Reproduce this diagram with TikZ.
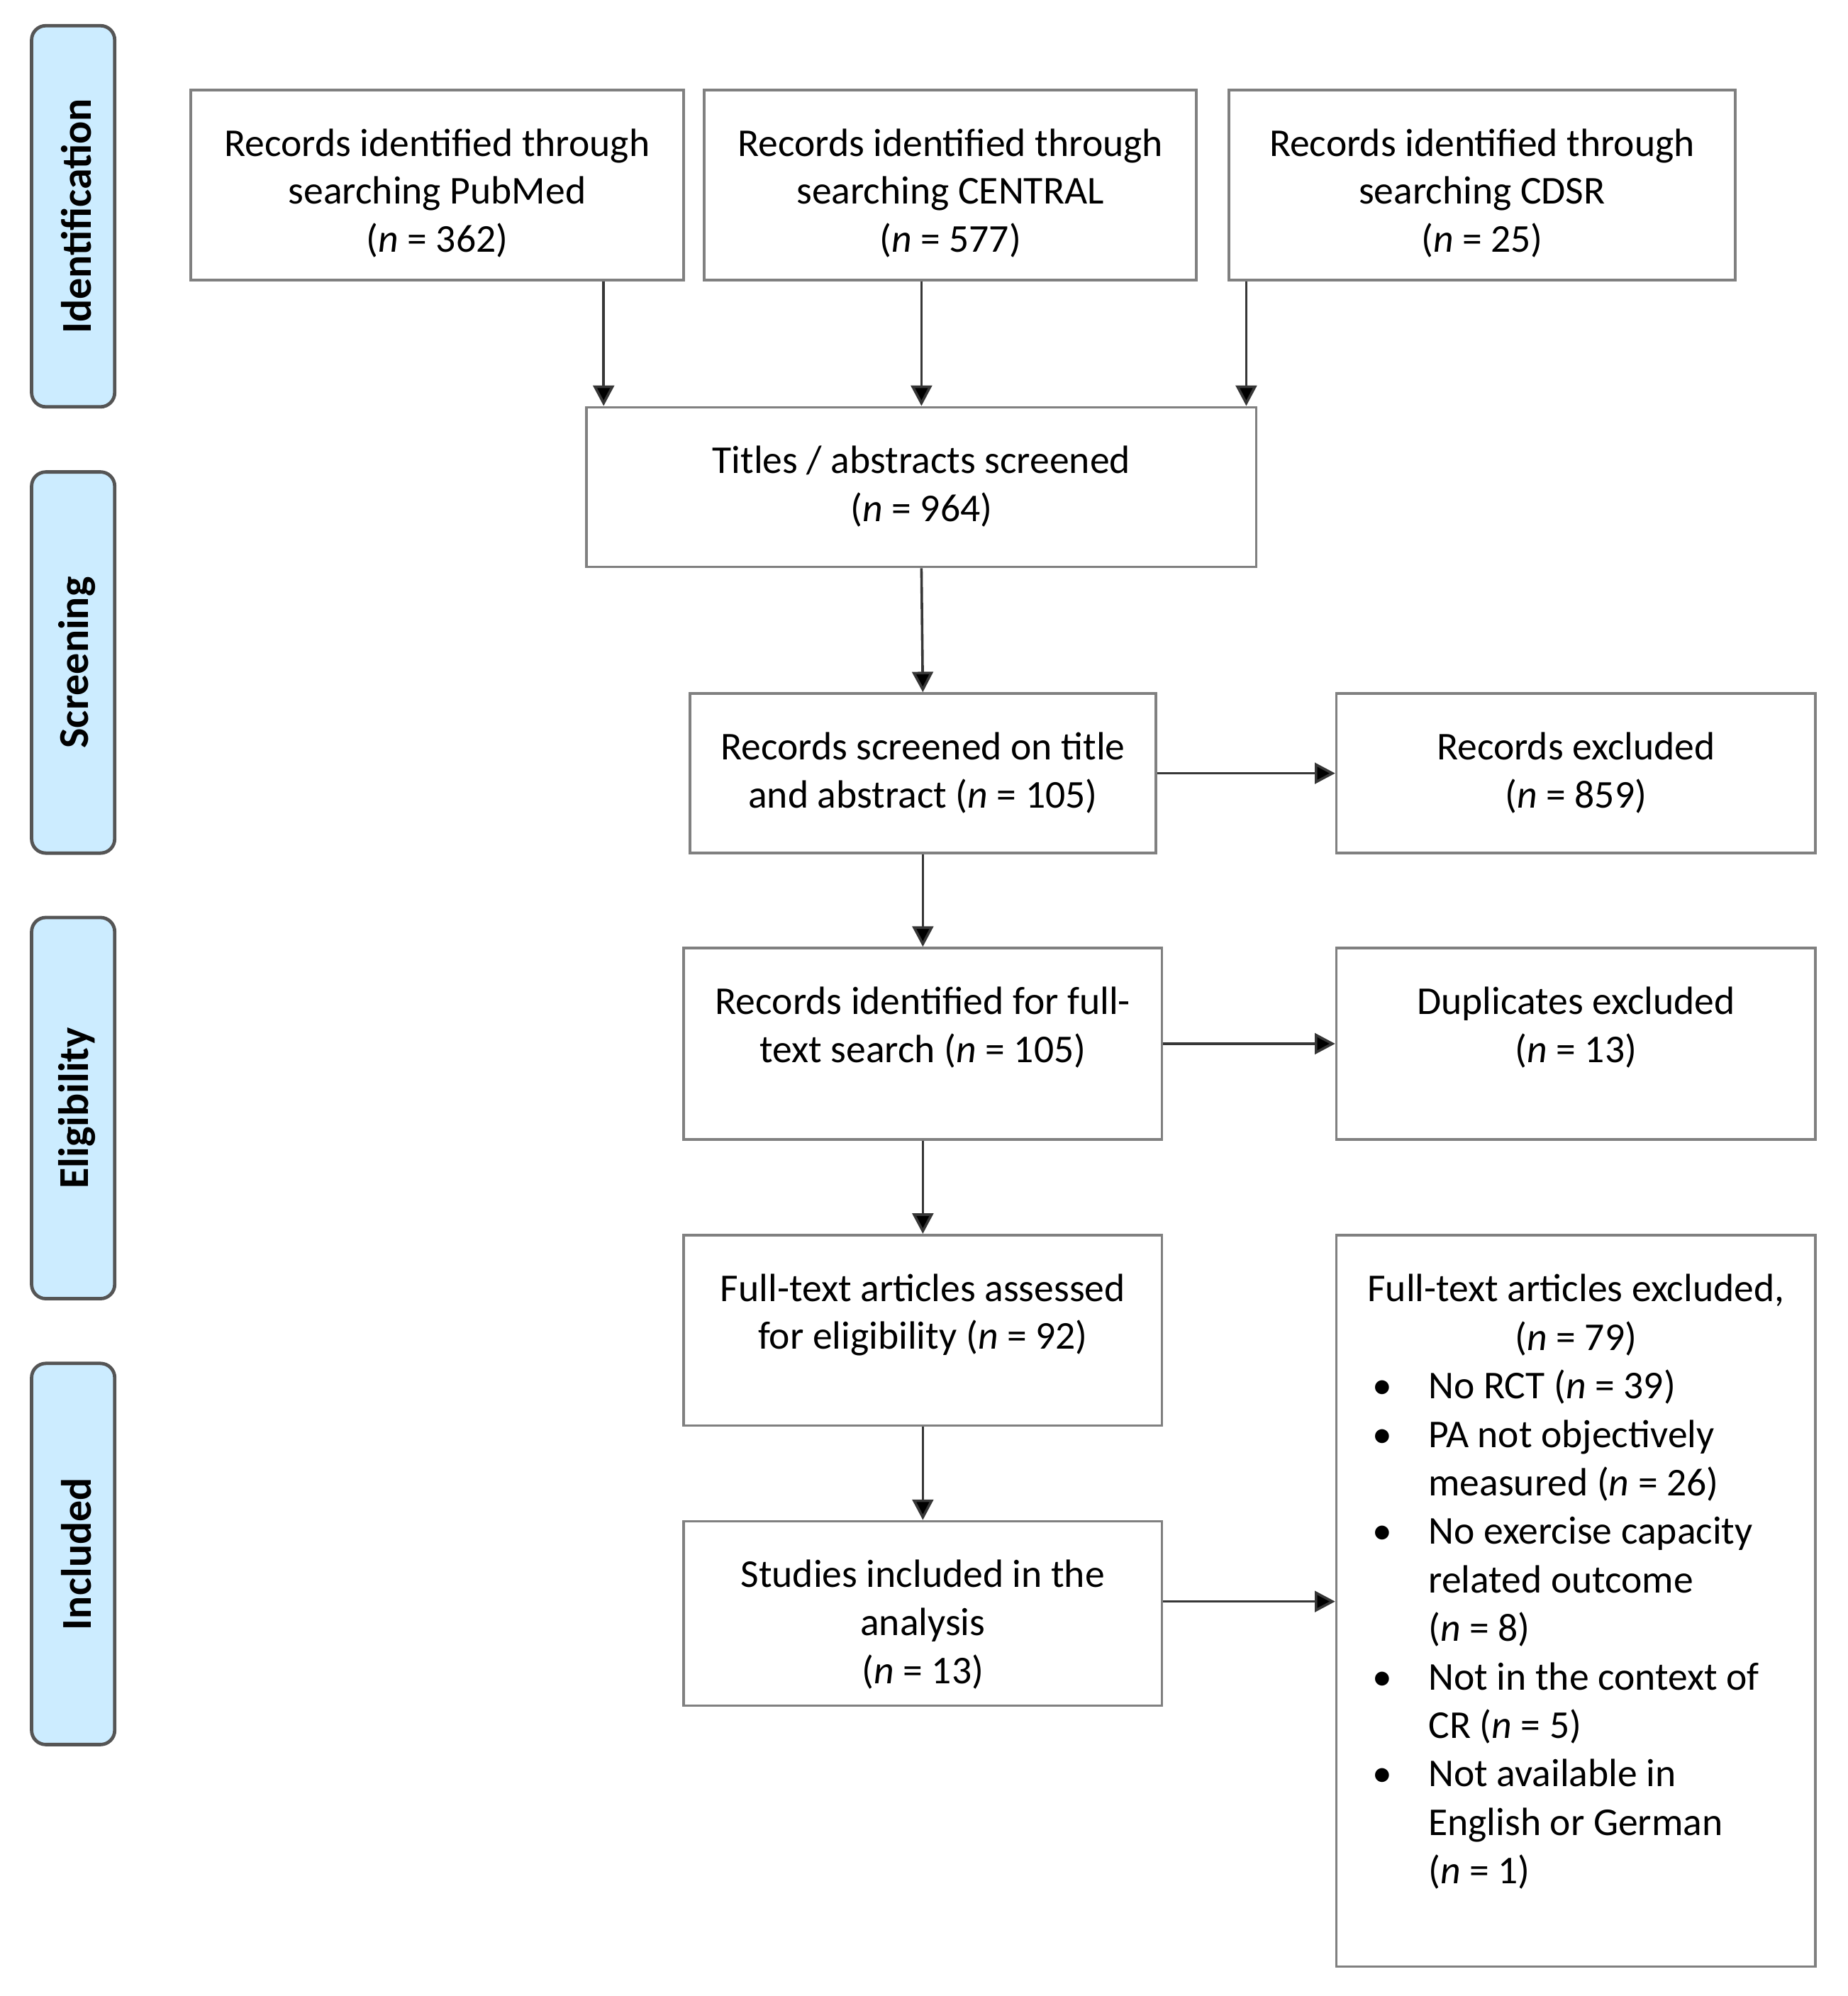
\documentclass[tikz,border=0pt]{standalone}
\usepackage{fontspec}
\setmainfont{Carlito}
\usetikzlibrary{arrows.meta}
\definecolor{boxline}{RGB}{128,128,128}
\definecolor{sidefill}{RGB}{204,236,255}
\definecolor{sideline}{RGB}{85,85,85}
\definecolor{arrline}{RGB}{55,55,55}
\newcommand{\nn}{\textit{n}}
\newcommand{\bitem}[1]{\makebox[160pt][l]{\hspace*{8.2pt}\makebox[19.8pt][l]{\textbullet}#1}}
\newcommand{\bcont}[1]{\makebox[160pt][l]{\hspace*{28pt}#1}}
\begin{document}
\begin{tikzpicture}[x=0.248pt,y=-0.248pt,
  fbox/.style={draw=boxline,line width=0.9pt,inner sep=0pt,rectangle},
  sidebox/.style={draw=sideline,fill=sidefill,line width=1.2pt,rounded corners=5pt,inner sep=0pt,minimum width=29.3pt,minimum height=134.4pt},
  sidelabel/.style={rotate=90,font=\bfseries\fontsize{15}{18}\selectfont},
  btext/.style={anchor=north,yshift=-11.8pt,inner sep=0pt,align=center,font=\fontsize{13.9}{16.9}\selectfont},
  arr/.style={-{Triangle[length=7.2pt,width=7.4pt,fill=black]},line width=0.9pt,draw=arrline}]
\useasboundingbox (0,0) rectangle (2627,2838);
% side phase boxes
\node[sidebox] (sid) at (104,307.5) {};
\node[sidebox] (sscr) at (104,942) {};
\node[sidebox] (selg) at (104,1575.5) {};
\node[sidebox] (sinc) at (104,2209.5) {};
\node[sidelabel] (lid) at (109,307.5) {Identification};
\node[sidelabel] (lscr) at (109,942) {Screening};
\node[sidelabel] (lelg) at (109,1575.5) {Eligibility};
\node[sidelabel] (linc) at (109,2209.5) {Included};
% boxes
\node[fbox,minimum width=173.85pt,minimum height=67pt] (pubmed) at (621.5,263) {};
\node[fbox,minimum width=173.6pt,minimum height=67pt] (central) at (1351,263) {};
\node[fbox,minimum width=178.56pt,minimum height=67pt] (cdsr) at (2107,263) {};
\node[fbox,minimum width=236.1pt,minimum height=56.3pt] (titles) at (1310,692.5) {};
\node[fbox,minimum width=164.2pt,minimum height=56.3pt] (screened) at (1312,1099.5) {};
\node[fbox,minimum width=168.9pt,minimum height=56.3pt] (recexcl) at (2240.5,1099.5) {};
\node[fbox,minimum width=168.6pt,minimum height=67.5pt] (fulltext) at (1312,1484) {};
\node[fbox,minimum width=168.9pt,minimum height=67.5pt] (dupl) at (2240.5,1484) {};
\node[fbox,minimum width=168.6pt,minimum height=67.2pt] (assessed) at (1312,1891.5) {};
\node[fbox,minimum width=168.6pt,minimum height=65pt] (studies) at (1312,2294) {};
\node[fbox,minimum width=168.9pt,minimum height=257.9pt] (ftexcl) at (2240.5,2276) {};
% texts
\node[btext] (tpubmed) at (pubmed.north) {\strut Records identified through\\searching PubMed\\(\nn{} = 362)};
\node[btext] (tcentral) at (central.north) {\strut Records identified through\\searching CENTRAL\\(\nn{} = 577)};
\node[btext] (tcdsr) at (cdsr.north) {\strut Records identified through\\searching CDSR\\(\nn{} = 25)};
\node[btext] (ttitles) at (titles.north) {\strut Titles / abstracts screened\\(\nn{} = 964)};
\node[btext] (tscreened) at (screened.north) {\strut Records screened on title\\and abstract (\nn{} = 105)};
\node[btext] (trecexcl) at (recexcl.north) {\strut Records excluded\\(\nn{} = 859)};
\node[btext] (tfulltext) at (fulltext.north) {\strut Records identified for full-\\text search (\nn{} = 105)};
\node[btext] (tdupl) at (dupl.north) {\strut Duplicates excluded\\(\nn{} = 13)};
\node[btext] (tassessed) at (assessed.north) {\strut Full-text articles assessed\\for eligibility (\nn{} = 92)};
\node[btext] (tstudies) at (studies.north) {\strut Studies included in the\\analysis\\(\nn{} = 13)};
\node[btext,font=\fontsize{13.9}{17.1}\selectfont] (tftexcl) at (ftexcl.north) {\strut Full-text articles excluded,\\(\nn{} = 79)\\
  \bitem{No RCT (\nn{} = 39)}\\
  \bitem{PA not objectively}\\
  \bcont{measured (\nn{} = 26)}\\
  \bitem{No exercise capacity}\\
  \bcont{related outcome}\\
  \bcont{(\nn{} = 8)}\\
  \bitem{Not in the context of}\\
  \bcont{CR (\nn{} = 5)}\\
  \bitem{Not available in}\\
  \bcont{English or German}\\
  \bcont{(\nn{} = 1)}};
% connectors
\coordinate (pa) at ([xshift=6.45pt]titles.north west);
\coordinate (ca) at ([xshift=-3.97pt]titles.north east);
\draw[arr] (pa |- pubmed.south) -- (pa);
\draw[arr] (titles.north |- central.south) -- (titles.north);
\draw[arr] (ca |- cdsr.south) -- (ca);
\draw[arr] (titles.south) -- (screened.north);
\draw[arr] (screened.east) -- (recexcl.west);
\draw[arr] (screened.south) -- (fulltext.north);
\draw[arr] (fulltext.east) -- (dupl.west);
\draw[arr] (fulltext.south) -- (assessed.north);
\draw[arr] (assessed.south) -- (studies.north);
\coordinate (sa) at ([yshift=4.2pt]studies.east);
\draw[arr] (sa) -- (sa -| ftexcl.west);
\end{tikzpicture}
\end{document}
